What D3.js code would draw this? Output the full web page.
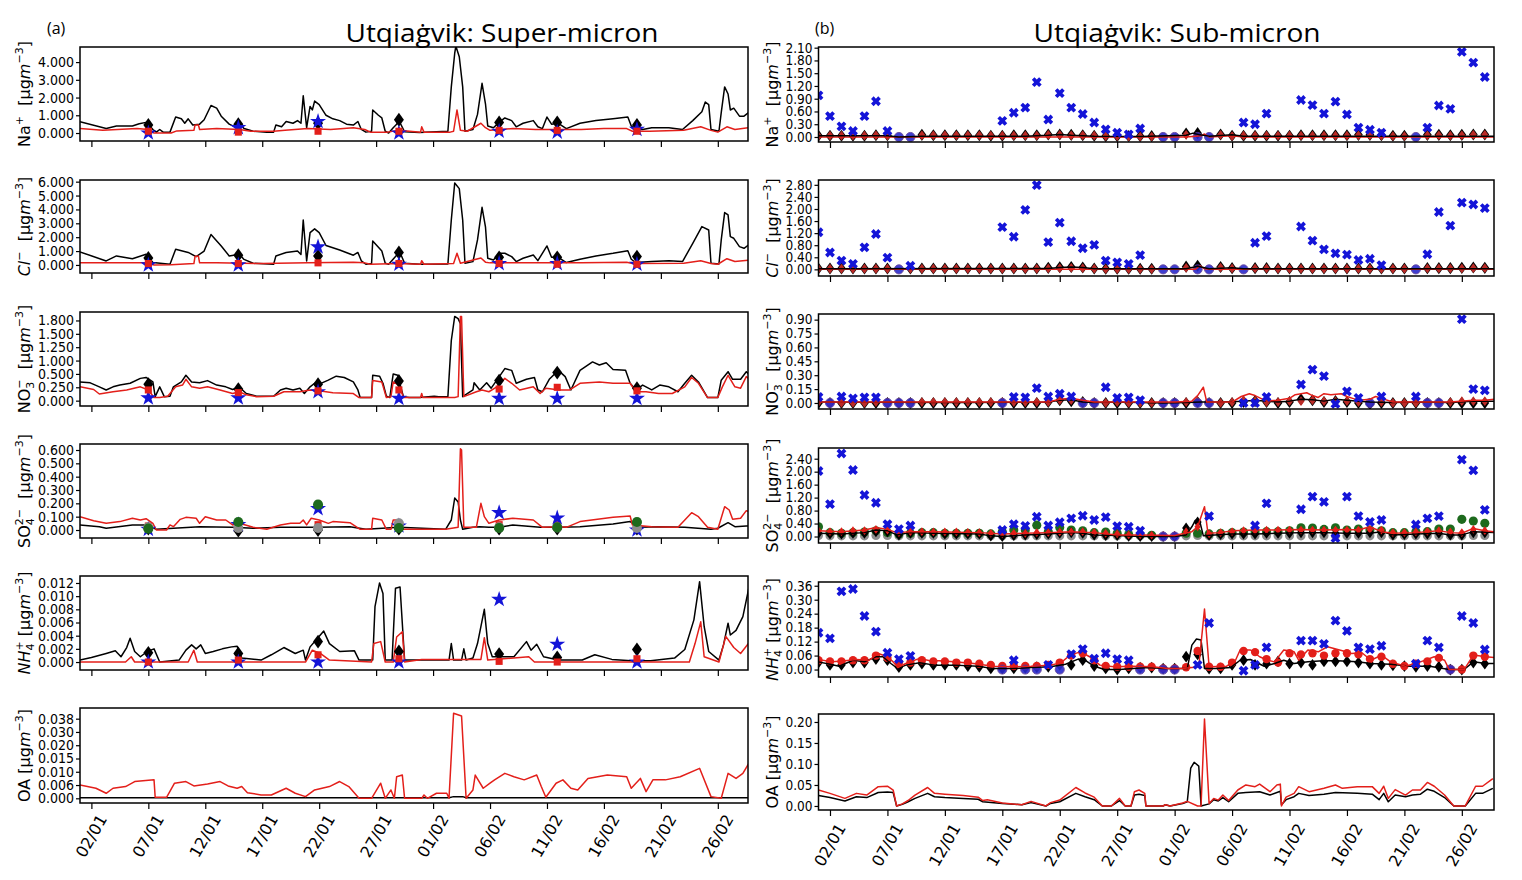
<!DOCTYPE html>
<html>
<head>
<meta charset="utf-8">
<script src="https://cdn.jsdelivr.net/npm/d3@7"></script>
<style>
  body { margin: 0; background: #fff; }
  svg text { font-family: "DejaVu Sans", sans-serif; fill: #000; }
</style>
</head>
<body>
<svg id="chart" width="1522" height="880"></svg>
<script>
// ---------------- data ----------------
// days counted from 01/01 00:00
var xTickDays = [1, 6, 11, 16, 21, 26, 31, 36, 41, 46, 51, 56];
var xTickLabels = ["02/01","07/01","12/01","17/01","22/01","27/01","01/02","06/02","11/02","16/02","21/02","26/02"];

// (a) super-micron y ticks
var naSupTicks = [0,1,2,3,4], naSupTickLabels = ["0.000","1.000","2.000","3.000","4.000"];
var clSupTicks = [0,1,2,3,4,5,6], clSupTickLabels = ["0.000","1.000","2.000","3.000","4.000","5.000","6.000"];
var no3SupTicks = [0,0.3,0.6,0.9,1.2,1.5,1.8], no3SupTickLabels = ["0.000","0.250","0.500","1.000","1.250","1.500","1.800"];
var so4SupTicks = [0,0.1,0.2,0.3,0.4,0.5,0.6], so4SupTickLabels = ["0.000","0.100","0.200","0.300","0.400","0.500","0.600"];
var nh4SupTicks = [0,0.002,0.004,0.006,0.008,0.010,0.012], nh4SupTickLabels = ["0.000","0.002","0.004","0.006","0.008","0.010","0.012"];
var oaSupTicks = [0,0.00633,0.01267,0.019,0.02533,0.03167,0.038], oaSupTickLabels = ["0.000","0.006","0.010","0.015","0.020","0.030","0.038"];

// (b) sub-micron y ticks
var naSubTicks = [0,0.3,0.6,0.9,1.2,1.5,1.8,2.1], naSubTickLabels = ["0.00","0.30","0.60","0.90","1.20","1.50","1.80","2.10"];
var clSubTicks = [0,0.4,0.8,1.2,1.6,2.0,2.4,2.8], clSubTickLabels = ["0.00","0.40","0.80","1.20","1.60","2.00","2.40","2.80"];
var no3SubTicks = [0,0.15,0.3,0.45,0.6,0.75,0.9], no3SubTickLabels = ["0.00","0.15","0.30","0.45","0.60","0.75","0.90"];
var so4SubTicks = [0,0.4,0.8,1.2,1.6,2.0,2.4], so4SubTickLabels = ["0.00","0.40","0.80","1.20","1.60","2.00","2.40"];
var nh4SubTicks = [0,0.06,0.12,0.18,0.24,0.30,0.36], nh4SubTickLabels = ["0.00","0.06","0.12","0.18","0.24","0.30","0.36"];
var oaSubTicks = [0,0.05,0.10,0.15,0.20], oaSubTickLabels = ["0.00","0.05","0.10","0.15","0.20"];

// (a) model lines [day, value]
var naSupK = [[0,0.64],[2.3,0.26],[3.2,0.4],[4.6,0.4],[5.2,0.52],[5.8,0.6],[6,0.5],[6.4,0.2],[6.7,0.05],[7,0.2],[7.3,0.05],[7.9,0.05],[8.4,0.9],[8.9,0.8],[9.2,0.55],[9.5,0.8],[9.9,0.45],[10.5,0.5],[10.9,0.75],[11.5,1.55],[12,1.4],[12.4,0.95],[13.1,0.5],[13.6,0.35],[14,0.55],[14.4,0.25],[15.2,0.1],[16.4,0.05],[17,0.05],[17.2,0.45],[17.7,0.35],[18.1,0.65],[18.7,0.55],[19.1,0.7],[19.4,0.55],[19.6,2.1],[19.9,0.3],[20.2,1.5],[20.4,1.3],[20.6,1.8],[21,1.6],[21.6,1.0],[22.2,0.8],[22.8,0.7],[23.4,0.5],[24,0.45],[24.4,0.65],[24.7,0.2],[25.1,0.05],[25.6,0.1],[25.7,1.3],[26.2,1.0],[26.5,0.85],[26.8,0.1],[27.1,0.0],[27.5,0.3],[27.8,0.5],[28,0.7],[28.5,0.07],[29.8,0.03],[32.3,0.1],[32.6,2.6],[32.9,4.5],[33,4.9],[33.3,4.3],[33.6,2.6],[33.8,0.1],[34.5,0.2],[34.9,1.05],[35.3,2.8],[35.6,1.65],[35.8,0.4],[36.3,0.3],[36.8,0.6],[37.3,0.85],[37.9,0.7],[38.3,0.35],[38.9,0.55],[39.8,0.7],[40.2,0.35],[40.6,0.25],[41,0.9],[41.4,0.5],[42,0.55],[42.7,0.25],[43.9,0.55],[45.3,0.7],[46.8,0.8],[48.1,0.9],[48.4,0.4],[48.8,0.2],[49.4,0.2],[50.2,0.3],[51.7,0.3],[52.9,0.2],[53.8,0.7],[54.6,1.2],[54.9,1.75],[55.2,1.6],[55.4,0.2],[56.1,0.1],[56.3,1.15],[56.6,2.6],[56.9,2.2],[57.1,1.3],[57.4,1.4],[57.9,0.95],[58.3,0.95],[58.7,1.15]];
var naSupR = [[0,0.25],[2,0.15],[5,0.25],[6,0.2],[6.5,0.0],[8,0.0],[8.5,0.12],[10,0.15],[10.1,0.45],[10.4,0.45],[10.5,0.2],[12,0.25],[14,0.2],[15,0.1],[17,0.1],[18,0.15],[20,0.25],[22,0.2],[24,0.3],[25,0.2],[25.5,0.05],[27,0.05],[28,0.15],[29.9,0.05],[30,0.35],[30.2,0.05],[32.5,0.05],[32.8,0.1],[33.1,1.3],[33.4,0.15],[34,0.1],[35.2,0.55],[35.6,0.3],[36,0.15],[38,0.25],[40,0.2],[42,0.2],[44,0.2],[46,0.25],[48,0.25],[48.5,0.1],[50,0.1],[53,0.15],[54.5,0.35],[55.4,0.15],[56,0.05],[56.8,0.35],[57.5,0.2],[58.7,0.3]];
var clSupK = [[0,0.94],[2.3,0.29],[3.2,0.65],[4.6,0.45],[5.8,0.77],[6.4,0.17],[7.9,0.05],[8.4,1.13],[9.5,0.9],[10.2,0.6],[10.9,1.0],[11.5,2.2],[12.4,1.37],[13.1,0.65],[14,0.77],[14.4,0.4],[15.2,0.12],[17,0.05],[17.2,0.65],[18.1,0.9],[19.1,1.0],[19.4,0.75],[19.6,3.24],[19.9,0.29],[20.2,2.33],[20.6,2.6],[21,2.33],[21.6,1.4],[22.8,1.08],[24,0.7],[24.4,0.9],[24.7,0.3],[25.1,0.05],[25.6,0.1],[25.7,1.73],[26.5,1.0],[26.8,0.12],[27.1,0.05],[27.8,0.7],[28,1.08],[28.5,0.12],[29.8,0.05],[32.3,0.07],[32.6,3.24],[32.9,5.9],[33.3,5.5],[33.6,3.24],[33.8,0.12],[34.5,0.24],[34.9,1.8],[35.3,4.15],[35.6,2.75],[35.8,0.48],[36.3,0.36],[36.8,0.84],[37.3,0.84],[37.9,0.6],[38.3,0.24],[38.9,0.48],[39.8,0.72],[40.2,0.31],[41,1.37],[41.4,0.55],[42,0.55],[42.7,0.17],[43.9,0.41],[45.3,0.65],[46.8,0.84],[48.1,1.03],[48.4,0.41],[48.8,0.17],[50.2,0.24],[51.7,0.31],[52.9,0.24],[53.8,1.56],[54.6,2.76],[55.2,2.52],[55.4,0.12],[56.1,0.07],[56.3,1.8],[56.6,3.77],[56.9,3.6],[57.1,2.04],[57.4,1.92],[57.9,1.32],[58.3,1.2],[58.7,1.44]];
var clSupR = [[0,0.15],[6,0.15],[6.5,0.0],[8,0.02],[10,0.1],[10.1,0.62],[10.4,0.62],[10.5,0.15],[12,0.15],[16,0.1],[20,0.15],[24,0.2],[25,0.15],[25.5,0.05],[28,0.1],[29.9,0.05],[30,0.3],[30.2,0.05],[32.8,0.1],[33.1,0.84],[33.4,0.12],[35.2,0.5],[35.6,0.2],[36,0.15],[40,0.15],[44,0.15],[48,0.2],[48.5,0.1],[53,0.12],[54.5,0.3],[55.4,0.1],[56,0.05],[56.8,0.45],[57.5,0.25],[58.7,0.35]];
var no3SupK = [[0,0.42],[0.9,0.4],[1.7,0.31],[2.3,0.24],[2.9,0.31],[3.5,0.35],[4.4,0.39],[5.3,0.5],[5.8,0.52],[6.4,0.42],[6.6,0.09],[7,0.31],[7.4,0.09],[7.9,0.1],[8.2,0.31],[8.9,0.42],[9.3,0.57],[9.8,0.42],[10.5,0.4],[11.2,0.45],[12,0.35],[12.8,0.31],[13.4,0.25],[14,0.3],[14.6,0.16],[15.5,0.1],[17,0.1],[17.6,0.24],[18.1,0.28],[18.7,0.24],[19.3,0.28],[19.7,0.16],[20.2,0.31],[20.6,0.39],[21,0.37],[21.8,0.46],[22.5,0.55],[23.2,0.52],[24,0.42],[24.4,0.24],[24.6,0.07],[25.6,0.07],[25.7,0.57],[26.3,0.55],[26.6,0.39],[26.9,0.1],[27.2,0.07],[27.5,0.6],[27.9,0.57],[28,0.46],[28.4,0.09],[28.9,0.07],[29.8,0.07],[31.1,0.1],[31.5,0.09],[32.3,0.09],[32.6,1.35],[32.9,1.89],[33.2,1.84],[33.4,1.73],[33.6,0.09],[34.5,0.24],[34.6,0.4],[35.1,0.24],[35.7,0.4],[36.1,0.28],[36.6,0.46],[37.3,0.72],[37.9,0.68],[38.3,0.39],[39.2,0.48],[39.9,0.52],[40.2,0.24],[40.6,0.2],[41.2,0.48],[42,0.68],[42.6,0.54],[43.1,0.24],[43.9,0.68],[45,0.87],[45.6,0.8],[46.2,0.85],[46.8,0.7],[47.9,0.68],[48.3,0.39],[48.8,0.24],[49.4,0.35],[50.2,0.24],[50.9,0.35],[51.7,0.31],[52.5,0.2],[53.1,0.39],[53.7,0.57],[54.3,0.42],[55.1,0.07],[56,0.07],[56.3,0.46],[56.9,0.65],[57.3,0.48],[58,0.48],[58.5,0.65],[58.7,0.6]];
var no3SupR = [[0,0.31],[1.2,0.25],[1.7,0.15],[2.9,0.2],[4.1,0.24],[5.3,0.31],[6,0.24],[6.5,0.07],[7,0.07],[7.7,0.1],[8.4,0.31],[9,0.35],[9.3,0.48],[9.8,0.31],[10.5,0.28],[11.2,0.31],[12.3,0.24],[13.4,0.16],[14,0.2],[14.6,0.13],[15.5,0.09],[17,0.1],[17.9,0.2],[19.3,0.2],[20.2,0.24],[21,0.22],[22.2,0.18],[24,0.16],[24.5,0.07],[25.6,0.07],[25.7,0.45],[26.5,0.42],[26.9,0.07],[27.3,0.09],[27.5,0.42],[28,0.35],[28.4,0.07],[29.9,0.07],[30,0.16],[30.1,0.07],[32.9,0.07],[33.2,0.09],[33.4,1.89],[33.5,1.89],[33.7,0.09],[34.8,0.2],[35.3,0.24],[35.9,0.2],[36.6,0.31],[37.3,0.5],[37.9,0.39],[38.6,0.24],[39.8,0.31],[40.4,0.16],[40.9,0.28],[42.1,0.24],[43,0.24],[43.9,0.39],[45.6,0.42],[46.8,0.39],[48.3,0.39],[48.8,0.2],[49.7,0.2],[50.8,0.16],[52,0.16],[53.1,0.31],[53.7,0.52],[54.3,0.39],[55.1,0.07],[56,0.07],[56.4,0.31],[56.9,0.57],[57.5,0.31],[58,0.28],[58.5,0.54],[58.7,0.5]];
var so4SupK = [[0,0.038],[1.7,0.025],[2.3,0.013],[4.6,0.038],[5.8,0.038],[6.7,0.005],[10.5,0.025],[13.4,0.02],[15.2,0.013],[17.6,0.02],[20.8,0.02],[23.7,0.025],[25.1,0.005],[28,0.02],[32.1,0.005],[32.6,0.075],[32.9,0.24],[33.2,0.21],[33.4,0.075],[33.6,0.005],[34.5,0.02],[35.1,0.025],[35.9,0.02],[36.8,0.02],[38,0.038],[40.4,0.02],[42.1,0.02],[43.9,0.025],[46.8,0.045],[48.3,0.063],[49.1,0.02],[50.8,0.025],[53.1,0.02],[55.4,0.005],[56,0.013],[56.9,0.055],[57.5,0.025],[58.5,0.03],[58.7,0.03]];
var so4SupR = [[0,0.1],[1.2,0.07],[2.3,0.05],[3.5,0.063],[4.6,0.088],[5.3,0.075],[5.8,0.085],[6.4,0.05],[6.7,0],[7.6,0],[7.9,0.038],[8.2,0.025],[8.8,0.08],[9.3,0.095],[10.2,0.088],[10.5,0.05],[11,0.1],[12,0.075],[12.8,0.075],[13.4,0.038],[14,0.05],[15.2,0.02],[16.4,0.005],[17.6,0.038],[18.5,0.05],[19.3,0.05],[19.6,0.075],[19.9,0.038],[20.3,0.088],[21,0.075],[21.8,0.05],[22.2,0.063],[23.7,0.055],[24.6,0.005],[25.6,0.005],[25.7,0.088],[26.5,0.075],[26.9,0.005],[27.3,0.005],[27.5,0.075],[28,0.075],[28.4,0.005],[32.1,0.005],[33.2,0.02],[33.4,0.61],[33.5,0.6],[33.7,0.02],[34.8,0.02],[35.2,0.2],[35.5,0.1],[35.9,0.05],[36.8,0.075],[38,0.088],[39.8,0.075],[40.6,0.02],[42.1,0.025],[42.7,0.02],[43.9,0.063],[46.8,0.095],[48.3,0.105],[48.5,0.038],[50.2,0.025],[52.5,0.02],[53.7,0.13],[54.3,0.1],[55.1,0.02],[56,0.005],[56.6,0.175],[57,0.15],[57.3,0.08],[58,0.088],[58.5,0.145],[58.7,0.14]];
var nh4SupK = [[0,0.0003],[1,0.0007],[2.3,0.0013],[3.1,0.0017],[3.6,0.0008],[4.1,0.0022],[4.4,0.0036],[4.8,0.0016],[5.3,0.0008],[5.9,0.0016],[6.5,0.002],[7,0],[8.7,0.0003],[9.3,0.0018],[9.8,0.0026],[10.2,0.002],[10.6,0.0026],[11,0.0013],[11.7,0.0016],[12.5,0.002],[13.3,0.0023],[13.8,0.0024],[14.2,0.0006],[15.9,0.0003],[16.8,0.0011],[17.9,0.0022],[18.9,0.0013],[19.6,0.0018],[19.8,0.0003],[20.2,0.0023],[21.1,0.0041],[21.4,0.0047],[21.9,0.0028],[22.8,0.0016],[24.1,0.0017],[24.5,0.0003],[25.7,0.0003],[25.9,0.0084],[26.3,0.012],[26.6,0.0104],[26.8,0.0003],[27.4,0.0003],[27.7,0.0112],[28.1,0.0114],[28.5,0.0003],[32.4,0.0003],[32.6,0.0028],[32.8,0.0003],[33.5,0.0003],[33.7,0.002],[33.9,0.0003],[34.5,0.0006],[34.9,0.0028],[35.5,0.008],[35.8,0.0028],[36.2,0.0008],[38.1,0.0008],[39.2,0.0031],[39.6,0.0018],[40.1,0.0027],[40.7,0.0008],[42,0.0003],[44.1,0.0003],[45.2,0.0011],[46.7,0.0004],[48.4,0.0002],[50.1,0.0002],[52.2,0.0006],[53.1,0.0019],[53.9,0.0064],[54.4,0.0122],[54.8,0.0054],[55.2,0.0016],[56.1,0.0003],[56.5,0.0026],[56.9,0.0059],[57.1,0.0041],[57.6,0.0048],[58.2,0.0069],[58.9,0.0127]];
var nh4SupR = [[0,0],[4,0],[4.5,0.0008],[4.8,0],[9.5,0],[10,0.0018],[10.3,0],[19.8,0],[20.4,0.0018],[21.1,0.0013],[21.9,0.0003],[25.6,0],[25.8,0.0028],[26.4,0.0031],[26.8,0],[27.5,0],[27.8,0.0038],[28.3,0.0046],[28.5,0],[30,0.0004],[35.2,0.0004],[35.5,0.0037],[35.8,0.0003],[39.4,0.0008],[39.9,0],[53.5,0],[54,0.0028],[54.5,0.0061],[54.8,0.0008],[56.1,0],[56.7,0.0039],[57.4,0.0022],[58,0.0013],[58.9,0.0033]];
var oaSupK = [[0,0.0003],[32.4,0.0003],[32.8,0.0008],[33.6,0.0008],[33.9,0.0003],[58.9,0.0003]];
var oaSupR = [[0,0.0064],[1.4,0.0048],[2.3,0.0024],[2.9,0.0048],[4,0.0056],[4.8,0.008],[6.5,0.0088],[6.6,0.0005],[7.6,0.0005],[8.3,0.0072],[9.3,0.008],[10,0.0059],[11.2,0.0068],[12.3,0.008],[13,0.0059],[13.8,0.0048],[14.2,0.0056],[14.7,0.0027],[15.9,0.0016],[16.8,0.0016],[18.1,0.0048],[18.9,0.0024],[19.8,0.0008],[20.6,0.004],[21.9,0.0056],[22.8,0.008],[23.6,0.0056],[24.5,0],[25.6,0],[26.4,0.0072],[26.8,0],[27.3,0.004],[27.6,0],[27.8,0.0103],[28.3,0.0111],[28.5,0],[30,0],[30.2,0.0016],[30.5,0],[31.3,0.0024],[32.2,0.0024],[32.4,0],[32.8,0.0406],[33.5,0.0393],[33.9,0],[34.5,0.004],[34.7,0.0111],[35.4,0.0048],[36,0.0072],[36.4,0.0088],[37.3,0.0119],[38.1,0.0103],[39,0.0088],[40.1,0.0111],[40.5,0.0056],[40.9,0.0005],[41.8,0.0072],[42.4,0.0088],[43.1,0.0048],[43.7,0.004],[44.6,0.0095],[46.3,0.0111],[48,0.0103],[48.4,0.0048],[49.2,0.0095],[49.7,0.0032],[50.3,0.0088],[51.4,0.0088],[52.7,0.0103],[54.4,0.0143],[55.4,0.0008],[56.3,0],[56.9,0.0119],[57.6,0.0095],[58.2,0.0119],[58.9,0.0183]];

// (a) filter samples
var supDays = [6.0, 13.9, 20.9, 28.0, 36.8, 41.9, 48.9];
var naSupDia = [0.45, 0.5, 0.55, 0.75, 0.6, 0.6, 0.45];
var naSupSq = [0.1, 0.05, 0.1, 0.1, 0.15, 0.15, 0.1];
var naSupStar = [0.0, 0.3, 0.65, 0.0, 0.1, 0.05, 0.2];
var clSupDia = [0.5, 0.7, 0.65, 0.9, 0.55, 0.55, 0.6];
var clSupSq = [0.1, 0.1, 0.15, 0.1, 0.1, 0.05, 0.05];
var clSupStar = [0.0, 0.0, 1.3, 0.05, 0.1, 0.1, 0.05];
var no3SupDia = [0.37, 0.26, 0.37, 0.44, 0.45, 0.63, 0.28];
var no3SupSq = [0.24, 0.18, 0.22, 0.24, 0.26, 0.3, 0.22];
var no3SupStar = [0.06, 0.06, 0.2, 0.05, 0.05, 0.05, 0.05];
var so4SupDia = [0.01, -0.005, 0.0, 0.01, 0.01, 0.01, 0.01];
var so4SupSq = [0.03, 0.04, 0.04, 0.04, 0.04, 0.04, 0.05];
var so4SupStar = [0.005, 0.04, 0.16, 0.03, 0.13, 0.09, 0.0];
var so4SupGrey = [0.02, 0.015, 0.015, 0.05, 0.02, 0.02, 0.015];
var so4SupGreen = [0.01, 0.06, 0.19, 0.015, 0.015, 0.02, 0.06];
var nh4SupDia = [0.0014, 0.0013, 0.0031, 0.0016, 0.0012, 0.0007, 0.0019];
var nh4SupSq = [0.0, 0.0003, 0.0011, 0.0005, 0.0001, 0.0, 0.0005];
var nh4SupStar = [0.0, 0.0, 0.0, 0.0, 0.0095, 0.0027, 0.0];

// (b) model lines [day, value]
var naSubK = [[0,0.03],[6,0.03],[7,0.0],[9,0.02],[18,0.02],[20,0.04],[21,0.06],[22,0.04],[24,0.02],[28,0.01],[32,0.04],[32.6,0.09],[33.2,0.05],[34,0.02],[36,0.05],[37,0.02],[45,0.02],[58.8,0.02]];
var naSubR = [[0,0.0],[32,0.0],[33.3,0.03],[33.6,0.07],[34,0.0],[36,0.03],[37,0.0],[58.8,0.0]];
var clSubK = [[0,0.02],[20,0.03],[21,0.06],[22,0.08],[23,0.06],[24,0.02],[32,0.02],[33,0.1],[34,0.02],[36,0.05],[37,0.02],[58.8,0.02]];
var clSubR = [[0,0.0],[32.8,0.0],[33.2,0.12],[33.6,0.02],[34,0.0],[58.8,0.0]];
var no3SubK = [[0,0.01],[12,0.005],[20,0.01],[21,0.03],[22,0.035],[23,0.01],[24,0.005],[26,0.01],[28,0.005],[30,0.0],[32,0.005],[33.3,0.01],[35,0.01],[37,0.02],[38,0.03],[39,0.02],[40,0.01],[41,0.02],[42,0.04],[43,0.035],[44,0.02],[45,0.04],[46,0.03],[47,0.02],[48,0.01],[50,0.005],[52,0.01],[55,0.005],[57,0.02],[58.8,0.02]];
var no3SubR = [[0,0.01],[12,0.01],[20,0.01],[21,0.04],[22,0.05],[23,0.03],[24,0.01],[28,0.01],[31,0.01],[32.5,0.02],[33,0.08],[33.5,0.17],[33.8,0.01],[36,0.01],[36.8,0.07],[37.5,0.1],[38,0.08],[38.5,0.05],[39,0.02],[40,0.03],[41,0.05],[41.5,0.09],[42,0.1],[42.5,0.11],[43,0.08],[43.5,0.06],[44,0.1],[44.6,0.09],[45.5,0.1],[46,0.07],[46.5,0.05],[47,0.03],[48,0.04],[48.5,0.07],[49,0.05],[50,0.01],[55,0.01],[57,0.03],[58,0.03],[58.8,0.04]];
var so4SubK = [[0,0.1],[2,0.08],[4,0.12],[5,0.2],[6,0.18],[6.8,0.05],[8,0.12],[10,0.1],[14,0.08],[15,0.02],[16,0.0],[18,0.05],[20,0.08],[22,0.12],[23,0.1],[24,0.05],[26,0.03],[28,0.0],[31,0.0],[32,0.05],[32.5,0.3],[32.8,0.5],[33.2,0.45],[33.5,0.02],[34.5,0.05],[36,0.08],[38,0.08],[40,0.1],[42,0.12],[44,0.12],[46,0.1],[48,0.1],[49,0.15],[50,0.05],[52,0.08],[54,0.1],[55,0.05],[56,0.05],[57,0.15],[58.8,0.12]];
var so4SubR = [[0,0.18],[2,0.15],[4,0.2],[5,0.28],[6,0.22],[6.8,0.12],[8,0.15],[10,0.15],[14,0.12],[16,0.08],[18,0.1],[20,0.12],[22,0.15],[24,0.12],[26,0.05],[28,0.05],[31,0.03],[32.5,0.15],[33,0.3],[33.6,0.92],[33.9,0.1],[35,0.12],[36,0.18],[38,0.2],[40,0.2],[42,0.22],[44,0.2],[46,0.22],[47,0.2],[48,0.3],[49,0.15],[50,0.1],[52,0.12],[54,0.18],[55,0.12],[56,0.1],[57,0.25],[58,0.18],[58.8,0.15]];
var nh4SubK = [[0,0.033],[1,0.023],[1.8,0.014],[3,0.04],[4,0.033],[5,0.055],[5.6,0.055],[6.3,0.026],[6.9,0.004],[7.6,0.019],[8.8,0.029],[10.1,0.019],[11.8,0.019],[13.9,0.014],[15.2,0.004],[16.9,0.004],[18.5,0.009],[20.2,0.012],[21.5,0.023],[22.6,0.045],[23.2,0.04],[24,0.014],[24.9,0],[26.2,0],[27.4,0.004],[28.7,0.009],[30,0.004],[32.1,0.004],[32.5,0.105],[32.9,0.131],[33.3,0.127],[33.6,0.004],[34.6,0.004],[35.9,0.009],[36.7,0.04],[37.6,0.043],[38.8,0.014],[39.7,0.026],[40.5,0.04],[41.4,0.026],[42.6,0.033],[43.9,0.038],[45.2,0.038],[46.9,0.033],[48.1,0.026],[49.8,0.023],[51.5,0.014],[53.2,0.014],[54.9,0],[56.2,0],[57,0.033],[58.1,0.026],[58.8,0.026]];
var nh4SubR = [[0,0.043],[1.2,0.033],[2.3,0.038],[3.3,0.043],[4.4,0.04],[5.2,0.069],[6,0.055],[6.5,0.033],[6.9,0.009],[7.6,0.026],[8.8,0.048],[9.7,0.038],[10.5,0.038],[11.8,0.033],[13.5,0.026],[15.2,0.014],[16.9,0.012],[18.5,0.014],[20.2,0.019],[21.1,0.029],[21.9,0.062],[22.8,0.076],[23.6,0.055],[24.5,0.019],[25.7,0.012],[27.4,0.014],[29.1,0.012],[30.4,0.004],[31.7,0.004],[32.5,0.009],[33.1,0.012],[33.6,0.26],[34,0.012],[35.5,0.014],[36.3,0.04],[36.7,0.084],[37.6,0.084],[38.4,0.055],[39.1,0.04],[39.7,0.033],[40.5,0.084],[41.4,0.076],[41.8,0.04],[42.6,0.084],[43.5,0.076],[44.3,0.098],[45.6,0.081],[46.4,0.069],[47.3,0.072],[48.1,0.04],[49,0.062],[49.8,0.033],[51.1,0.014],[52.4,0.033],[53.6,0.055],[54.5,0.04],[54.9,0],[56.2,0],[57,0.062],[58.1,0.055],[58.8,0.052]];
var oaSubK = [[0,0.025],[1,0.02],[2.3,0.012],[3.3,0.022],[4.2,0.02],[5.2,0.032],[6,0.033],[6.5,0.032],[6.8,0],[7.3,0.004],[7.8,0.01],[8.4,0.018],[9.5,0.03],[10.1,0.022],[11,0.02],[12.6,0.018],[13.9,0.016],[14.3,0.01],[16,0.006],[17.7,0.003],[18.5,0.008],[19.8,0],[20.2,0.006],[21,0.01],[22.4,0.03],[23.2,0.022],[24,0.015],[24.7,0],[25.5,0],[26.2,0.013],[26.7,0],[27.2,0],[27.5,0.026],[27.9,0.028],[28.4,0.025],[28.5,0],[30,0],[30.2,0.003],[30.6,0],[31.7,0.006],[32.1,0.01],[32.4,0.09],[32.7,0.104],[33.1,0.095],[33.3,0],[34,0.005],[34.4,0.015],[34.8,0.012],[35.2,0.02],[35.7,0.01],[36.5,0.03],[37.2,0.032],[38.4,0.034],[39.3,0.026],[40.2,0.035],[40.3,0.003],[40.7,0.015],[41.4,0.022],[41.8,0.03],[42.7,0.025],[44,0.028],[45,0.032],[46.9,0.03],[48.2,0.028],[48.8,0.015],[49.2,0.03],[49.6,0.01],[50.2,0.026],[51.1,0.022],[51.7,0.026],[52.4,0.028],[53,0.04],[53.6,0.035],[54.5,0.02],[55.3,0],[56.3,0],[57.2,0.03],[57.8,0.03],[58.7,0.042]];
var oaSubR = [[0,0.038],[1,0.03],[2.3,0.018],[3.3,0.03],[4.2,0.026],[5.2,0.046],[6,0.047],[6.5,0.038],[6.8,0],[7.3,0.005],[7.8,0.013],[8.4,0.026],[9.5,0.044],[10.1,0.03],[11,0.028],[12.6,0.025],[13.9,0.021],[14.3,0.013],[14.7,0.015],[16,0.007],[17.7,0.003],[18.5,0.011],[19.8,0],[20.2,0.008],[21,0.014],[22.4,0.044],[23.2,0.031],[24,0.021],[24.7,0],[25.5,0],[26.2,0.018],[26.7,0],[27.2,0],[27.5,0.034],[27.9,0.038],[28.4,0.03],[28.5,0],[30,0],[30.2,0.003],[30.6,0],[31.7,0.007],[32.1,0.011],[33,0],[33.3,0],[33.6,0.207],[34,0.006],[34.4,0.018],[34.8,0.014],[35.2,0.026],[35.7,0.013],[36.5,0.038],[37.2,0.05],[38,0.046],[38.4,0.052],[39.3,0.034],[39.9,0.05],[40.2,0.052],[40.3,0],[40.7,0.021],[41.4,0.03],[41.8,0.046],[42.7,0.034],[44,0.042],[45,0.05],[45.6,0.042],[46.9,0.046],[48.2,0.046],[48.8,0.03],[49.2,0.047],[49.6,0.018],[50.2,0.039],[51.1,0.026],[51.7,0.038],[52.4,0.038],[53,0.056],[53.6,0.047],[54.5,0.026],[55.3,0],[56.3,0],[57.2,0.047],[57.8,0.047],[58.7,0.065]];

// (b) daily filter samples, index = day 0..58 (null = no marker)
var naSubDiaK = [0.03,0.03,0.03,0.03,0.03,0.04,0.04,null,null,0.05,
  0.04,0.04,0.04,0.04,0.04,0.03,0.03,0.04,0.04,0.04,
  0.06,0.06,0.05,0.04,0.03,0.02,0.02,0.02,0.02,0.02,
  null,null,0.08,0.09,null,0.06,0.03,0.03,0.03,0.03,
  0.03,0.03,0.04,0.04,0.04,0.04,0.04,0.05,0.05,0.04,
  0.03,0.03,null,0.05,0.05,0.04,0.05,0.06,0.06];
var naSubDiaR = [0.02,0.03,0.03,0.03,0.03,0.04,0.03,null,null,0.04,
  0.04,0.04,0.04,0.04,0.04,0.03,0.03,0.03,0.03,0.03,
  0.05,0.05,0.04,0.04,0.03,0.02,0.02,0.01,0.01,0.01,
  null,null,0.05,null,null,0.05,0.02,0.03,0.03,0.03,
  0.03,0.03,0.03,0.03,0.03,0.03,0.03,0.04,0.04,0.03,
  0.02,0.02,null,0.04,0.04,0.03,0.04,0.05,0.05];
var naSubX = [0.98,0.49,0.25,0.14,0.49,0.84,0.14,null,null,null,
  null,null,null,null,null,null,0.38,0.57,0.69,1.29,
  0.41,1.03,0.69,0.54,0.34,0.18,0.10,0.06,0.20,null,
  null,null,null,null,null,null,null,0.34,0.30,0.55,
  null,null,0.87,0.75,0.55,0.83,0.53,0.22,0.17,0.10,
  null,null,null,0.22,0.74,0.66,2.00,1.75,1.41];
var naSubO = [7, 8, 30, 31, 33, 34, 52];

var clSubDiaK = [0.03,0.03,0.03,0.03,0.03,0.03,0.03,null,0.03,0.03,
  0.03,0.03,0.03,0.03,0.03,0.03,0.03,0.03,0.03,0.03,
  0.05,0.07,0.08,0.06,0.03,0.02,0.02,0.02,0.02,0.02,
  null,null,0.09,0.12,null,0.08,0.04,null,0.04,0.04,
  0.03,0.03,0.03,0.03,0.03,0.03,0.03,0.03,0.03,0.03,
  0.03,0.03,null,0.04,0.04,0.04,0.05,0.06,0.05];
var clSubDiaR = [0.02,0.02,0.02,0.02,0.02,0.02,0.02,null,0.02,0.02,
  0.02,0.02,0.02,0.02,0.02,0.02,0.02,0.02,0.02,0.02,
  0.03,0.04,0.05,0.04,0.02,0.01,0.01,0.01,0.01,0.01,
  null,null,0.05,null,null,0.06,0.03,null,0.03,0.03,
  0.02,0.02,0.02,0.02,0.02,0.02,0.02,0.02,0.02,0.02,
  0.02,0.02,null,0.03,0.03,0.03,0.03,0.04,0.04];
var clSubX = [1.23,0.56,0.29,0.18,0.73,1.17,0.39,null,0.12,null,
  null,null,null,null,null,null,1.40,1.08,1.97,2.79,
  0.90,1.55,0.93,0.70,0.81,0.29,0.23,0.18,0.47,null,
  null,null,null,null,null,null,null,null,0.88,1.10,
  null,null,1.42,0.95,0.66,0.53,0.49,0.31,0.35,0.14,
  null,null,null,0.50,1.90,1.45,2.21,2.15,2.03];
var clSubO = [7, 30, 31, 33, 34, 37, 52];

var no3SubDiaK = [0.0,0.0,0.0,0.0,0.0,0.0,0.0,0.0,0.0,0.0,
  0.0,0.0,0.0,0.0,0.0,0.0,0.0,0.0,0.0,0.0,
  0.01,0.03,0.02,0.01,0.0,0.0,0.0,0.0,0.0,0.0,
  0.0,0.0,0.0,0.01,0.0,0.0,0.0,0.01,0.02,0.01,
  0.0,0.01,0.04,0.03,0.01,0.02,0.01,0.0,-0.01,0.0,
  0.0,0.0,0.0,0.0,0.0,0.0,0.0,0.0,0.0];
var no3SubDiaR = [0.01,0.0,0.0,0.0,0.0,0.01,0.0,0.0,0.0,0.01,
  0.01,0.01,0.01,0.01,0.01,0.01,0.01,0.01,0.01,0.01,
  0.01,0.03,0.03,0.01,0.0,0.0,0.01,0.0,0.0,0.0,
  0.0,0.0,0.01,0.02,0.0,0.0,0.01,0.03,0.02,0.01,
  0.01,0.02,0.02,0.03,0.02,0.02,0.02,0.01,0.0,0.01,
  0.0,0.0,0.0,0.0,0.0,0.01,0.02,0.02,0.02];
var no3SubX = [0.065,null,0.07,0.05,0.06,0.06,null,null,null,null,
  null,null,null,null,null,null,null,0.065,0.06,0.16,
  0.07,0.10,0.07,null,null,0.17,0.055,0.06,0.03,null,
  null,null,null,null,null,null,null,0.0,0.0,0.065,
  null,null,0.20,0.36,0.29,-0.01,0.125,0.055,null,0.07,
  null,null,0.07,null,null,null,0.905,0.15,0.136];
var no3SubO = [1, 6, 7, 8, 16, 23, 24, 30, 31, 33, 34, 48, 53, 54];

var so4SubDiaK = [0.1,0.08,0.08,0.1,0.1,0.15,0.15,0.05,0.1,0.1,
  0.1,0.08,0.08,0.08,0.08,0.02,0.0,0.03,0.05,0.06,
  0.08,0.1,0.12,0.1,0.05,0.03,0.03,0.01,0.0,0.0,
  0.0,0.0,0.26,0.45,0.04,0.06,0.08,0.08,0.08,0.1,
  0.1,0.1,0.12,0.12,0.12,0.1,0.1,0.1,0.12,0.12,
  0.05,0.06,0.08,0.08,0.1,0.05,0.05,0.12,0.12];
var so4SubDiaR = [0.18,0.15,0.15,0.18,0.18,0.22,0.2,0.12,0.15,0.15,
  0.14,0.14,0.14,0.13,0.12,0.1,0.08,0.1,0.1,0.12,
  0.12,0.14,0.15,0.15,0.12,0.1,0.08,0.05,0.05,0.04,
  0.03,0.03,0.15,0.3,0.08,0.12,0.15,0.18,0.18,0.2,
  0.2,0.2,0.2,0.2,0.2,0.2,0.2,0.2,0.22,0.2,
  0.12,0.12,0.14,0.16,0.18,0.14,0.12,0.22,0.18];
var so4SubGrey = [0.03,0.02,0.02,0.02,0.02,0.03,0.03,0.02,0.02,0.02,
  0.02,0.02,0.02,0.02,0.02,0.02,0.02,0.02,0.02,0.02,
  0.02,0.02,0.02,0.02,0.02,0.02,0.02,0.02,0.02,0.02,
  null,null,0.02,0.03,0.02,0.02,0.02,0.02,0.02,0.02,
  0.02,0.02,0.02,0.02,0.02,0.02,0.02,0.02,0.02,0.02,
  0.02,0.02,0.02,0.02,0.02,0.02,0.02,0.03,0.03];
var so4SubGreen = [0.3,0.12,0.1,0.12,0.14,0.18,0.12,0.08,0.1,0.12,
  0.12,0.1,0.1,0.1,0.1,0.08,0.15,0.2,0.2,0.35,
  0.15,0.28,0.2,0.18,0.12,0.14,0.1,0.06,0.05,0.04,
  null,null,0.1,0.1,0.08,0.1,0.12,0.14,0.15,0.15,
  0.15,0.18,0.27,0.26,0.22,0.27,0.2,0.23,0.2,0.18,
  0.12,0.12,0.15,0.15,0.23,0.23,0.53,0.48,0.41];
var so4SubX = [2.02,1.00,2.56,2.05,1.28,1.04,0.38,0.23,0.34,null,
  null,null,null,null,null,null,0.20,0.38,0.33,0.61,
  0.34,0.44,0.56,0.64,0.51,0.60,0.32,0.30,0.18,null,
  null,null,null,null,0.63,null,null,null,0.34,1.02,
  null,null,0.84,1.23,1.07,-0.05,1.23,0.63,0.45,0.51,
  null,null,0.37,0.56,0.63,null,2.37,2.04,0.82];
var so4SubO = [30, 31];

var nh4SubDiaK = [0.03,0.02,0.02,0.03,0.03,0.045,0.04,0.01,0.02,0.025,
  0.02,0.02,0.02,0.015,0.012,0.005,0.005,0.005,0.008,0.01,
  0.012,0.02,0.02,0.04,0.015,0.005,0.0,0.005,0.008,0.008,
  0.004,0.004,0.055,0.065,0.004,0.005,0.02,0.04,0.02,0.025,
  0.035,0.025,0.03,0.02,0.035,0.035,0.035,0.03,0.025,0.02,
  0.018,0.015,0.012,0.015,0.012,0.0,0.0,0.03,0.025];
var nh4SubDotR = [0.04,0.035,0.035,0.04,0.04,0.06,0.05,0.03,0.03,0.04,
  0.035,0.035,0.03,0.03,0.025,0.02,0.015,0.015,0.015,0.015,
  0.02,0.03,0.06,0.07,0.04,0.015,0.012,0.012,0.012,0.012,
  0.005,0.005,0.01,0.08,0.012,0.012,0.03,0.08,0.075,0.045,
  0.03,0.07,0.065,0.07,0.06,0.07,0.07,0.065,0.045,0.055,
  0.025,0.015,0.025,0.035,0.05,0.0,0.0,0.06,0.055];
var nh4SubX = [0.158,0.134,0.336,0.346,0.23,0.163,0.072,0.045,0.059,null,
  null,null,null,null,null,null,null,0.04,null,null,
  0.02,null,0.066,0.088,0.047,0.07,0.045,0.04,null,null,
  null,null,null,0.02,0.2,null,null,-0.005,0.02,0.095,
  null,null,0.124,0.124,0.11,0.21,0.166,0.095,0.088,0.102,
  null,null,0.025,0.124,0.095,null,0.23,0.2,0.086];
var nh4SubO = [16, 18, 19, 21, 28, 30, 31, 55];

// ---------------- drawing ----------------
var svg = d3.select("#chart");
var DAY0 = Date.UTC(2020, 0, 1);
function day(d) { return new Date(DAY0 + d * 864e5); }

var RED = "#e31f1a", BLUE = "#1414d8", GREEN = "#1d6a1d", GREY = "#8c8c8c", DRED = "#bb2b27";

var xA = d3.scaleUtc().domain([day(0), day(58.65)]).range([80, 748]);
var xB = d3.scaleUtc().domain([day(0), day(58.8)]).range([818.5, 1494]);

// thin diamond like matplotlib 'd'
var symDia = { draw: function(ctx, size) {
  var h = Math.sqrt(size) * 0.62, w = h * 0.72;
  ctx.moveTo(0, -h); ctx.lineTo(w, 0); ctx.lineTo(0, h); ctx.lineTo(-w, 0); ctx.closePath();
}};
// filled X like matplotlib 'X'
var symX = { draw: function(ctx, size) {
  var r = Math.sqrt(size) / 2, w = r * 0.36, c = Math.SQRT1_2;
  var pts = [[w,r],[w,w],[r,w],[r,-w],[w,-w],[w,-r],[-w,-r],[-w,-w],[-r,-w],[-r,w],[-w,w],[-w,r]];
  pts.forEach(function(p, i) {
    var px = (p[0] - p[1]) * c, py = (p[0] + p[1]) * c;
    if (i === 0) ctx.moveTo(px, py); else ctx.lineTo(px, py);
  });
  ctx.closePath();
}};

function sup(vals) { return supDays.map(function(d, i) { return [d, vals[i]]; }); }
function daily(vals) { return vals.map(function(v, i) { return [i, v]; }).filter(function(p) { return p[1] != null; }); }
function zeros(days) { return days.map(function(d) { return [d, 0]; }); }

// y-axis labels
var labNa = [["Na"],["+","sup"],["\u00a0\u00a0[μg"],["m","i"],["−3","sup"],["]"]];
var labCl = [["Cl","i"],["−","sup"],["\u00a0\u00a0[μg"],["m","i"],["−3","sup"],["]"]];
var labNO3 = [["NO"],["3","sub"],["−","supb"],["\u00a0\u00a0[μg"],["m","i"],["−3","sup"],["]"]];
var labSO4 = [["SO"],["4","sub"],["2−","supb"],["\u00a0\u00a0[μg"],["m","i"],["−3","sup"],["]"]];
var labNH4 = [["NH","i"],["4","sub"],["+","supb"],["\u00a0[μg"],["m","i"],["−3","sup"],["]"]];
var labOA = [["OA\u00a0[μg"],["m","i"],["−3","sup"],["]"]];

function yLabel(cx, cy, parts) {
  var t = svg.append("text")
      .attr("transform", "translate(" + cx + "," + cy + ") rotate(-90)")
      .attr("text-anchor", "middle")
      .style("font-size", "16px");
  var shift = 0;
  parts.forEach(function(p) {
    var ts = t.append("tspan").text(p[0]);
    var kind = p[1], target = 0;
    if (kind === "sup" || kind === "supb") { target = -7; ts.style("font-size", "11px"); }
    if (kind === "sub") { target = 4; ts.style("font-size", "11px"); }
    if (kind === "i") ts.style("font-style", "italic");
    if (kind === "supb") ts.attr("dx", -7);
    if (target !== shift) ts.attr("dy", target - shift);
    shift = target;
  });
}

var clipN = 0;
function panel(p) {
  var x = p.x, x0 = x.range()[0], x1 = x.range()[1];
  var y = d3.scaleLinear().domain(p.domain).range([p.bottom, p.top]);
  var id = "clip" + (clipN++);
  svg.append("clipPath").attr("id", id)
    .append("rect").attr("x", x0).attr("y", p.top).attr("width", x1 - x0).attr("height", p.bottom - p.top);

  var g = svg.append("g");
  var body = g.append("g").attr("clip-path", "url(#" + id + ")");

  function marks(list) {
    list.forEach(function(m) {
      var sym = d3.symbol().type(m[1]).size(m[2]);
      body.append("g").selectAll("path")
        .data(m[0])
        .enter().append("path")
          .attr("transform", function(d) { return "translate(" + x(day(d[0])) + "," + y(d[1]) + ")"; })
          .attr("d", sym)
          .style("fill", m[3])
          .style("stroke", m[4] || "none")
          .style("stroke-width", m[5] || 0.6)
          .style("opacity", m[6] || 1);
    });
  }

  marks(p.under || []);
  var line = d3.line().x(function(d) { return x(day(d[0])); }).y(function(d) { return y(d[1]); });
  p.lines.forEach(function(l) {
    body.append("path").datum(l[0])
      .attr("d", line)
      .style("fill", "none")
      .style("stroke", l[1])
      .style("stroke-width", 1.5)
      .style("stroke-linejoin", "round");
  });
  marks(p.over || []);

  // axes
  var xa = g.append("g").attr("transform", "translate(0," + p.bottom + ")")
    .call(d3.axisBottom(x).tickValues(xTickDays.map(day)).tickSize(6).tickFormat(""));
  xa.select(".domain").remove();
  xa.selectAll("line").style("stroke", "#000").style("stroke-width", 1.2);

  var ya = g.append("g").attr("transform", "translate(" + x0 + ",0)")
    .call(d3.axisLeft(y).tickValues(p.ticks).tickSize(4).tickPadding(2)
      .tickFormat(function(d, i) { return p.tickLabels[i]; }));
  ya.select(".domain").remove();
  ya.selectAll("line").style("stroke", "#000").style("stroke-width", 1.2);
  ya.selectAll("text")
    .style("font-family", '"DejaVu Sans Condensed","DejaVu Sans",sans-serif')
    .style("font-size", p.fs + "px")
    .style("fill", "#000");

  g.append("rect")
    .attr("x", x0).attr("y", p.top).attr("width", x1 - x0).attr("height", p.bottom - p.top)
    .style("fill", "none").style("stroke", "#000").style("stroke-width", 1.5);

  yLabel(p.labelX, (p.top + p.bottom) / 2, p.label);

  if (p.dates) {
    g.append("g").selectAll("text")
      .data(xTickDays)
      .enter().append("text")
        .attr("transform", function(d) { return "translate(" + x(day(d)) + "," + p.dateY + ") rotate(-60)"; })
        .attr("text-anchor", "middle")
        .attr("dominant-baseline", "central")
        .style("font-size", "16px")
        .text(function(d, i) { return xTickLabels[i]; });
  }
}

// (a) super-micron column
function supMarks(dia, star, sq) {
  return [[sup(dia), symDia, 125, "#000"], [sup(star), d3.symbolStar, 80, BLUE], [sup(sq), d3.symbolSquare, 50, RED]];
}
var colA = [
  { top: 47, bottom: 141, domain: [-0.45, 4.85], ticks: naSupTicks, tickLabels: naSupTickLabels, label: labNa,
    lines: [[naSupK, "#000"], [naSupR, RED]], over: supMarks(naSupDia, naSupStar, naSupSq) },
  { top: 180, bottom: 273, domain: [-0.58, 6.12], ticks: clSupTicks, tickLabels: clSupTickLabels, label: labCl,
    lines: [[clSupK, "#000"], [clSupR, RED]], over: supMarks(clSupDia, clSupStar, clSupSq) },
  { top: 312, bottom: 406, domain: [-0.12, 1.99], ticks: no3SupTicks, tickLabels: no3SupTickLabels, label: labNO3,
    lines: [[no3SupK, "#000"], [no3SupR, RED]], over: supMarks(no3SupDia, no3SupStar, no3SupSq) },
  { top: 444, bottom: 538, domain: [-0.06, 0.645], ticks: so4SupTicks, tickLabels: so4SupTickLabels, label: labSO4,
    lines: [[so4SupK, "#000"], [so4SupR, RED]],
    over: [[sup(so4SupDia), symDia, 125, "#000"], [sup(so4SupSq), d3.symbolSquare, 50, RED],
           [sup(so4SupStar), d3.symbolStar, 80, BLUE], [sup(so4SupGrey), d3.symbolCircle, 80, GREY],
           [sup(so4SupGreen), d3.symbolCircle, 80, GREEN]] },
  { top: 576, bottom: 670, domain: [-0.00121, 0.01306], ticks: nh4SupTicks, tickLabels: nh4SupTickLabels, label: labNH4,
    lines: [[nh4SupK, "#000"], [nh4SupR, RED]], over: supMarks(nh4SupDia, nh4SupStar, nh4SupSq) },
  { top: 708, bottom: 803, domain: [-0.00224, 0.0431], ticks: oaSupTicks, tickLabels: oaSupTickLabels, label: labOA,
    lines: [[oaSupK, "#000"], [oaSupR, RED]], dates: true, dateY: 836 }
];
colA.forEach(function(p) { p.x = xA; p.labelX = 30; p.fs = 14; panel(p); });

// (b) sub-micron column
function subUnder(k, r, o) {
  return [[daily(k), symDia, 95, "#000"], [daily(r), symDia, 62, DRED], [zeros(o), d3.symbolCircle, 65, "#2a2acc", "#5a3a9a", 1, 0.9]];
}
var colB = [
  { top: 47, bottom: 142, domain: [-0.118, 2.116], ticks: naSubTicks, tickLabels: naSubTickLabels, label: labNa,
    lines: [[naSubR, RED], [naSubK, "#000"]], under: subUnder(naSubDiaK, naSubDiaR, naSubO),
    over: [[daily(naSubX), symX, 105, BLUE]] },
  { top: 180, bottom: 276, domain: [-0.22, 2.96], ticks: clSubTicks, tickLabels: clSubTickLabels, label: labCl,
    lines: [[clSubR, RED], [clSubK, "#000"]], under: subUnder(clSubDiaK, clSubDiaR, clSubO),
    over: [[daily(clSubX), symX, 105, BLUE]] },
  { top: 314, bottom: 409, domain: [-0.065, 0.961], ticks: no3SubTicks, tickLabels: no3SubTickLabels, label: labNO3,
    lines: [[no3SubK, "#000"], [no3SubR, RED]], under: subUnder(no3SubDiaK, no3SubDiaR, no3SubO),
    over: [[daily(no3SubX), symX, 105, BLUE]] },
  { top: 448, bottom: 543, domain: [-0.2, 2.73], ticks: so4SubTicks, tickLabels: so4SubTickLabels, label: labSO4,
    lines: [[so4SubK, "#000"], [so4SubR, RED]],
    under: [[daily(so4SubGrey), d3.symbolCircle, 65, GREY], [daily(so4SubGreen), d3.symbolCircle, 65, GREEN],
            [daily(so4SubDiaK), symDia, 80, "#000"], [daily(so4SubDiaR), symDia, 50, RED],
            [zeros(so4SubO), d3.symbolCircle, 65, "#2a2acc", "#5a3a9a", 1, 0.9]],
    over: [[daily(so4SubX), symX, 105, BLUE]] },
  { top: 582, bottom: 677, domain: [-0.032, 0.376], ticks: nh4SubTicks, tickLabels: nh4SubTickLabels, label: labNH4,
    lines: [[nh4SubK, "#000"], [nh4SubR, RED]],
    under: [[daily(nh4SubDiaK), symDia, 90, "#000"], [daily(nh4SubDotR), d3.symbolCircle, 55, RED],
            [zeros(nh4SubO), d3.symbolCircle, 65, "#2a2acc", "#5a3a9a", 1, 0.9]],
    over: [[daily(nh4SubX), symX, 105, BLUE]] },
  { top: 714, bottom: 810, domain: [-0.0096, 0.219], ticks: oaSubTicks, tickLabels: oaSubTickLabels, label: labOA,
    lines: [[oaSubK, "#000"], [oaSubR, RED]], dates: true, dateY: 845 }
];
colB.forEach(function(p) { p.x = xB; p.labelX = 778; p.fs = 13.5; panel(p); });

// titles
svg.append("text").attr("x", 502).attr("y", 42).attr("text-anchor", "middle")
  .attr("textLength", 313).attr("lengthAdjust", "spacingAndGlyphs")
  .style("font-family", '"Open Sans",sans-serif').style("font-size", "26px")
  .text("Utqiaġvik: Super-micron");
svg.append("text").attr("x", 1177).attr("y", 42).attr("text-anchor", "middle")
  .attr("textLength", 287).attr("lengthAdjust", "spacingAndGlyphs")
  .style("font-family", '"Open Sans",sans-serif').style("font-size", "26px")
  .text("Utqiaġvik: Sub-micron");
svg.append("text").attr("x", 47).attr("y", 34)
  .style("font-family", '"Open Sans",sans-serif').style("font-size", "16px").text("(a)");
svg.append("text").attr("x", 815).attr("y", 34)
  .style("font-family", '"Open Sans",sans-serif').style("font-size", "16px").text("(b)");
</script>
</body>
</html>
